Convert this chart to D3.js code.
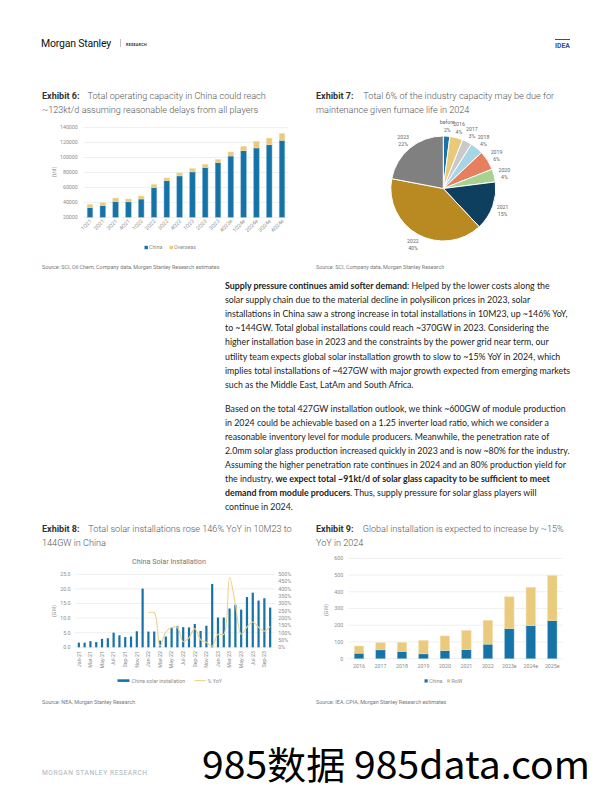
<!DOCTYPE html>
<html><head><meta charset="utf-8">
<script src="https://cdn.jsdelivr.net/npm/d3@7"></script>
<style>
html,body{margin:0;padding:0;background:#fff;}
svg{display:block;}
</style></head>
<body>
<svg id="page" width="612" height="792"></svg>
<script>
// ---------- DATA ----------
// Exhibit 6
const ex6Quarters = ["1Q21","2Q21","3Q21","4Q21","1Q22","2Q22","3Q22","4Q22","1Q23","2Q23","3Q23","4Q23e","1Q24e","2Q24e","3Q24e","4Q24e"];
const ex6China    = [33000,35800,41000,40700,44500,59700,69000,75400,80800,86600,93200,102000,109000,112800,117000,123000];
const ex6Overseas = [4400,3800,4800,3800,4000,4400,3600,4000,4400,4400,4400,5400,6000,8900,9000,9300];
const ex6YTicks   = [20000,40000,60000,80000,100000,120000,140000];

// Exhibit 7
const ex7Years  = ["before","2016","2017","2018","2019","2020","2021","2022","2023"];
const ex7Shares = [2,4,3,4,6,4,15,40,22];
const ex7Colors = ["#1a72a6","#e9c97a","#c9c9c9","#a6d6e4","#e67f5f","#a9d28f","#0f3f5f","#b98a22","#808080"];

// Exhibit 8
const ex8Months = ["Jan-21","Feb-21","Mar-21","Apr-21","May-21","Jun-21","Jul-21","Aug-21","Sep-21","Oct-21","Nov-21","Dec-21",
  "Jan-22","Feb-22","Mar-22","Apr-22","May-22","Jun-22","Jul-22","Aug-22","Sep-22","Oct-22","Nov-22","Dec-22",
  "Jan-23","Feb-23","Mar-23","Apr-23","May-23","Jun-23","Jul-23","Aug-23","Sep-23","Oct-23"];
const ex8Install = [1.6,1.6,2.1,1.8,2.9,3.1,5.0,4.1,3.5,3.7,5.5,20.1,
  5.4,5.4,2.3,3.7,6.8,7.2,6.9,6.8,8.0,5.6,7.4,21.7,
  10.2,10.2,13.3,14.6,12.9,17.2,18.7,16.0,16.8,13.6];
const ex8YoY = [null,null,null,null,null,null,null,null,null,null,null,null,
  2.36,2.38,0.08,1.05,1.36,1.36,0.38,0.65,1.28,0.51,0.35,0.08,
  0.89,0.89,4.78,2.95,0.90,1.39,1.73,1.37,1.10,1.43];
const ex8LeftTicks  = [0,5,10,15,20,25];
const ex8RightTicks = [0,0.5,1,1.5,2,2.5,3,3.5,4,4.5,5];

// Exhibit 9
const ex9Years = ["2016","2017","2018","2019","2020","2021","2022","2023e","2024e","2025e"];
const ex9China = [33,53,43,29,48,54,87,180,197,227];
const ex9RoW   = [43,43,55,80,88,115,143,190,230,270];
const ex9YTicks = [0,100,200,300,400,500,600];

// Body text
const para1 = [
  [["Supply pressure continues amid softer demand",1],[": Helped by the lower costs along the",0]],
  [["solar supply chain due to the material decline in polysilicon prices in 2023, solar",0]],
  [["installations in China saw a strong increase in total installations in 10M23, up ~146% YoY,",0]],
  [["to ~144GW. Total global installations could reach ~370GW in 2023. Considering the",0]],
  [["higher installation base in 2023 and the constraints by the power grid near term, our",0]],
  [["utility team expects global solar installation growth to slow to ~15% YoY in 2024, which",0]],
  [["implies total installations of ~427GW with major growth expected from emerging markets",0]],
  [["such as the Middle East, LatAm and South Africa.",0]]
];
const para2 = [
  [["Based on the total 427GW installation outlook, we think ~600GW of module production",0]],
  [["in 2024 could be achievable based on a 1.25 inverter load ratio, which we consider a",0]],
  [["reasonable inventory level for module producers. Meanwhile, the penetration rate of",0]],
  [["2.0mm solar glass production increased quickly in 2023 and is now ~80% for the industry.",0]],
  [["Assuming the higher penetration rate continues in 2024 and an 80% production yield for",0]],
  [["the industry, ",0],["we expect total ~91kt/d of solar glass capacity to be sufficient to meet",1]],
  [["demand from module producers",1],[". Thus, supply pressure for solar glass players will",0]],
  [["continue in 2024.",0]]
];

// ---------- DRAWING ----------
const svg = d3.select("#page");
const BLUE = "#1673a8", GOLD = "#eaca7c", AX = "#8c8c8c", GRID = "#e4e4e4";
const chartFont = "Roboto, 'Liberation Sans', sans-serif";

// Header
svg.append("text").attr("x",41).attr("y",47).attr("font-family","Roboto, sans-serif").attr("font-size",10.5)
  .attr("fill","#111").attr("letter-spacing",-0.2).text("Morgan Stanley");
svg.append("line").attr("x1",120.5).attr("x2",120.5).attr("y1",39).attr("y2",47).attr("stroke","#999").attr("stroke-width",0.6);
svg.append("text").attr("x",126).attr("y",45.5).attr("font-family",chartFont).attr("font-size",3.8).attr("font-weight","bold")
  .attr("fill","#333").attr("letter-spacing",0.2).text("RESEARCH");
svg.append("line").attr("x1",555).attr("x2",570).attr("y1",39.5).attr("y2",39.5).attr("stroke","#2b4f9e").attr("stroke-width",1);
svg.append("text").attr("x",555).attr("y",47.5).attr("font-family",chartFont).attr("font-size",6.8).attr("font-weight","bold")
  .attr("fill","#2b4f9e").text("IDEA");

// Exhibit titles
function title(x, y, bold, line1, line1x, line2) {
  const g = svg.append("g").attr("font-family",chartFont);
  g.append("text").attr("x",x).attr("y",y).attr("font-size",9).attr("font-weight","bold").attr("fill","#333").text(bold);
  g.append("text").attr("x",line1x).attr("y",y).attr("font-size",9.1).attr("font-weight",300).attr("fill","#555").text(line1);
  g.append("text").attr("x",x).attr("y",y+14.3).attr("font-size",9.1).attr("font-weight",300).attr("fill","#555").text(line2);
}
title(42, 99, "Exhibit 6:", "Total operating capacity in China could reach", 87.5, "~123kt/d assuming reasonable delays from all players");
title(316, 99, "Exhibit 7:", "Total 6% of the industry capacity may be due for", 363.3, "maintenance given furnace life in 2024");
title(42, 531.5, "Exhibit 8:", "Total solar installations rose 146% YoY in 10M23 to", 88.3, "144GW in China");
title(316, 531.5, "Exhibit 9:", "Global installation is expected to increase by ~15%", 362.7, "YoY in 2024");

function source(x, y, t) {
  svg.append("text").attr("x",x).attr("y",y).attr("font-family",chartFont).attr("font-size",5.4)
    .attr("fill","#777").text(t);
}
source(42, 269, "Source: SCI, Oil Chem, Company data, Morgan Stanley Research estimates");
source(316, 269, "Source: SCI, Company data, Morgan Stanley Research");
source(42, 704, "Source: NEA, Morgan Stanley Research");
source(316, 704, "Source: IEA, CPIA, Morgan Stanley Research estimates");

// ---------- Exhibit 6 ----------
{
  const g = svg.append("g").attr("font-family",chartFont);
  const x = d3.scaleBand().domain(ex6Quarters).range([83.6, 288.4]).paddingInner(0.56).paddingOuter(0.28);
  const y = d3.scaleLinear().domain([20000,140000]).range([217.3,127.6]);
  g.selectAll(".grid").data(ex6YTicks).join("line")
    .attr("x1",83.6).attr("x2",288.4).attr("y1",d=>y(d)).attr("y2",d=>y(d)).attr("stroke",GRID).attr("stroke-width",0.6);
  g.selectAll(".yl").data(ex6YTicks).join("text").attr("x",77.8).attr("y",d=>y(d)+1.8)
    .attr("text-anchor","end").attr("font-size",5.3).attr("fill",AX).text(d=>d);
  const data = ex6Quarters.map((q,i)=>({q, c:ex6China[i], o:ex6Overseas[i]}));
  g.selectAll(".bc").data(data).join("rect")
    .attr("x",d=>x(d.q)).attr("width",x.bandwidth()).attr("y",d=>y(d.c)).attr("height",d=>y(20000)-y(d.c))
    .attr("fill",BLUE).attr("stroke","#8fbcd8").attr("stroke-width",0.5);
  g.selectAll(".bo").data(data).join("rect")
    .attr("x",d=>x(d.q)).attr("width",x.bandwidth()).attr("y",d=>y(d.c+d.o)).attr("height",d=>y(d.c)-y(d.c+d.o))
    .attr("fill",GOLD).attr("stroke","#f4e2b2").attr("stroke-width",0.5);
  g.selectAll(".xl").data(ex6Quarters).join("text")
    .attr("transform",d=>`translate(${x(d)+x.bandwidth()/2+2},${221.5}) rotate(-45)`)
    .attr("text-anchor","end").attr("font-size",5.3).attr("fill",AX).text(d=>d);
  g.append("text").attr("transform","translate(56,172) rotate(-90)").attr("text-anchor","middle")
    .attr("font-size",5.3).attr("fill",AX).text("(t/d)");
  // legend
  g.append("rect").attr("x",144.5).attr("y",245.8).attr("width",3.4).attr("height",3.4).attr("fill",BLUE);
  g.append("text").attr("x",149).attr("y",249.3).attr("font-size",5.3).attr("fill",AX).text("China");
  g.append("rect").attr("x",169.5).attr("y",245.8).attr("width",3.4).attr("height",3.4).attr("fill",GOLD);
  g.append("text").attr("x",174).attr("y",249.3).attr("font-size",5.3).attr("fill",AX).text("Overseas");
}

// ---------- Exhibit 7 ----------
{
  const cx = 443.3, cy = 188.5, r = 52.5;
  const g = svg.append("g").attr("transform",`translate(${cx},${cy})`).attr("font-family",chartFont);
  const pie = d3.pie().sort(null).value(d=>d.v);
  const arcs = pie(ex7Years.map((y,i)=>({y, v:ex7Shares[i], c:ex7Colors[i]})));
  const arc = d3.arc().innerRadius(0).outerRadius(r);
  g.selectAll("path").data(arcs).join("path").attr("d",arc).attr("fill",d=>d.data.c)
    .attr("stroke","#fff").attr("stroke-width",1);
  const la = d3.arc().innerRadius(63).outerRadius(63);
  const lab = g.selectAll(".lab").data(arcs).join("text")
    .attr("transform",d=>`translate(${la.centroid(d)})`).attr("text-anchor","middle")
    .attr("font-size",5.2).attr("fill","#666");
  lab.append("tspan").attr("x",0).attr("dy",-1.2).text(d=>d.data.y);
  lab.append("tspan").attr("x",0).attr("dy",7.3).text(d=>d.data.v+"%");
}

// ---------- Body text ----------
{
  const bodyFont = "Lato, 'Noto Sans', sans-serif";
  function para(lines, y0) {
    lines.forEach((segs, i) => {
      const t = svg.append("text").attr("x",225).attr("y",y0 + i*14.1).attr("font-family",bodyFont)
        .attr("font-size",8.8).attr("fill","#222");
      segs.forEach(s => t.append("tspan").attr("font-weight", s[1] ? "bold" : "normal").text(s[0]));
    });
  }
  para(para1, 289);
  para(para2, 411.6);
}

// ---------- Exhibit 8 ----------
{
  const g = svg.append("g").attr("font-family",chartFont);
  const x = d3.scaleBand().domain(ex8Months).range([76, 273]).paddingInner(0.62).paddingOuter(0.3);
  const yL = d3.scaleLinear().domain([0,25]).range([647.3,574.3]);
  const yR = d3.scaleLinear().domain([0,5]).range([647.3,574.3]);
  g.append("text").attr("x",169).attr("y",564.2).attr("text-anchor","middle").attr("font-size",7.2)
    .attr("fill","#777").text("China Solar Installation");
  g.selectAll(".grid").data(ex8LeftTicks).join("line")
    .attr("x1",75).attr("x2",275).attr("y1",d=>yL(d)).attr("y2",d=>yL(d)).attr("stroke",GRID).attr("stroke-width",0.6);
  g.selectAll(".yl").data(ex8LeftTicks).join("text").attr("x",70.5).attr("y",d=>yL(d)+1.8)
    .attr("text-anchor","end").attr("font-size",5.3).attr("fill",AX).text(d=>d.toFixed(1));
  g.selectAll(".yr").data(ex8RightTicks).join("text").attr("x",278.3).attr("y",d=>yR(d)+1.8)
    .attr("font-size",5.3).attr("fill",AX).text(d=>Math.round(d*100)+"%");
  g.selectAll(".bar").data(ex8Months.map((m,i)=>({m,v:ex8Install[i]}))).join("rect")
    .attr("x",d=>x(d.m)).attr("width",x.bandwidth()).attr("y",d=>yL(d.v)).attr("height",d=>yL(0)-yL(d.v))
    .attr("fill",BLUE);
  const pts = ex8Months.map((m,i)=>({m,v:ex8YoY[i]})).filter(d=>d.v!==null);
  const line = d3.line().x(d=>x(d.m)+x.bandwidth()/2).y(d=>yR(d.v)).curve(d3.curveCatmullRom.alpha(0.5));
  g.append("path").datum(pts).attr("d",line).attr("fill","none").attr("stroke","#ecd28a").attr("stroke-width",1.1);
  g.selectAll(".xl").data(ex8Months.filter((d,i)=>i%2===0)).join("text")
    .attr("transform",d=>`translate(${x(d)+x.bandwidth()/2+1.8},${651}) rotate(-90)`)
    .attr("text-anchor","end").attr("font-size",5.3).attr("fill",AX).text(d=>d);
  g.append("text").attr("transform","translate(56,611) rotate(-90)").attr("text-anchor","middle")
    .attr("font-size",5.3).attr("fill",AX).text("(GW)");
  // legend
  g.append("rect").attr("x",117.5).attr("y",679.3).attr("width",12).attr("height",2.6).attr("fill",BLUE);
  g.append("text").attr("x",131.5).attr("y",682.5).attr("font-size",5.3).attr("fill",AX).text("China solar installation");
  g.append("line").attr("x1",194.5).attr("x2",205.5).attr("y1",680.6).attr("y2",680.6).attr("stroke","#ecd28a").attr("stroke-width",1.1);
  g.append("text").attr("x",207.5).attr("y",682.5).attr("font-size",5.3).attr("fill",AX).text("% YoY");
}

// ---------- Exhibit 9 ----------
{
  const g = svg.append("g").attr("font-family",chartFont);
  const x = d3.scaleBand().domain(ex9Years).range([348.3, 563]).paddingInner(0.56).paddingOuter(0.28);
  const y = d3.scaleLinear().domain([0,600]).range([658.7,558.3]);
  g.selectAll(".grid").data(ex9YTicks).join("line")
    .attr("x1",348.3).attr("x2",563).attr("y1",d=>y(d)).attr("y2",d=>y(d)).attr("stroke",GRID).attr("stroke-width",0.6);
  g.selectAll(".yl").data(ex9YTicks).join("text").attr("x",343.3).attr("y",d=>y(d)+1.8)
    .attr("text-anchor","end").attr("font-size",5.3).attr("fill",AX).text(d=>d);
  const data = ex9Years.map((yr,i)=>({yr, c:ex9China[i], r:ex9RoW[i]}));
  g.selectAll(".bc").data(data).join("rect")
    .attr("x",d=>x(d.yr)).attr("width",x.bandwidth()).attr("y",d=>y(d.c)).attr("height",d=>y(0)-y(d.c))
    .attr("fill",BLUE).attr("stroke","#8fbcd8").attr("stroke-width",0.5);
  g.selectAll(".br").data(data).join("rect")
    .attr("x",d=>x(d.yr)).attr("width",x.bandwidth()).attr("y",d=>y(d.c+d.r)).attr("height",d=>y(d.c)-y(d.c+d.r))
    .attr("fill",GOLD).attr("stroke","#f4e2b2").attr("stroke-width",0.5);
  g.selectAll(".xl").data(ex9Years).join("text").attr("x",d=>x(d)+x.bandwidth()/2).attr("y",667.5)
    .attr("text-anchor","middle").attr("font-size",5.3).attr("fill",AX).text(d=>d);
  g.append("text").attr("transform","translate(327.5,610) rotate(-90)").attr("text-anchor","middle")
    .attr("font-size",5.3).attr("fill",AX).text("(GW)");
  g.append("rect").attr("x",424.5).attr("y",679.3).attr("width",3.2).attr("height",3.2).attr("fill",BLUE);
  g.append("text").attr("x",429).attr("y",682.5).attr("font-size",5.3).attr("fill",AX).text("China");
  g.append("rect").attr("x",447).attr("y",679.3).attr("width",3.2).attr("height",3.2).attr("fill",GOLD);
  g.append("text").attr("x",451.5).attr("y",682.5).attr("font-size",5.3).attr("fill",AX).text("RoW");
}

// Footer and watermark
svg.append("text").attr("x",42).attr("y",774.5).attr("font-family",chartFont).attr("font-size",6.6)
  .attr("fill","#aab3bd").attr("letter-spacing",0.6).text("MORGAN STANLEY RESEARCH");
svg.append("text").attr("x",202).attr("y",779).attr("font-family","'Noto Sans CJK SC', 'DejaVu Sans', sans-serif")
  .attr("font-size",38).attr("fill","#000").attr("textLength",388).attr("lengthAdjust","spacingAndGlyphs")
  .text("985数据 985data.com");
</script>
</body></html>
